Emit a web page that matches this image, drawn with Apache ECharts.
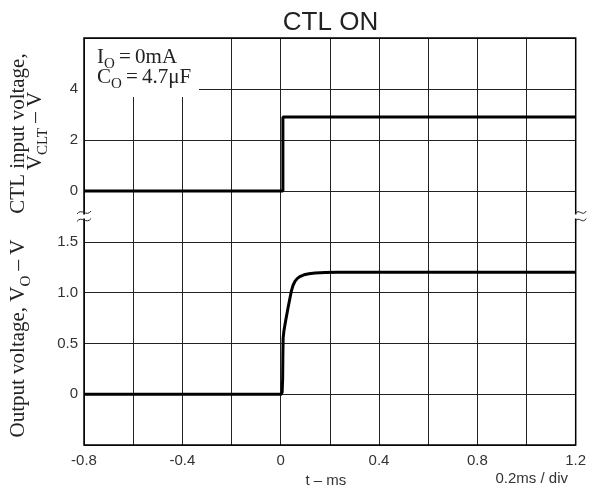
<!DOCTYPE html>
<html>
<head>
<meta charset="utf-8">
<script src="https://cdn.jsdelivr.net/npm/echarts@6/dist/echarts.min.js"></script>
<style>html,body{margin:0;padding:0;background:#fff}#c{width:589px;height:495px}</style>
</head>
<body>
<div id="c"></div>
<script>
// ---- data ----
const xTickLabels = ['-0.8', '-0.4', '0', '0.4', '0.8', '1.2'];
const yTopTickLabels = ['0', '2', '4'];
const yBottomTickLabels = ['0', '0.5', '1.0', '1.5'];

const ctlTime = [-0.8, 0.009, 0.009, 1.2];
const ctlVolt = [0, 0, 2.9, 2.9];

const outTime = [-0.8, 0.002, 0.006, 0.008, 0.009, 0.010, 0.013, 0.020, 0.030, 0.038, 0.044, 0.050, 0.058, 0.068, 0.080, 0.095, 0.115, 0.140, 0.180, 0.230, 1.2];
const outVolt = [0, 0, 0.02, 0.15, 0.40, 0.55, 0.62, 0.72, 0.85, 0.95, 1.02, 1.07, 1.11, 1.14, 1.16, 1.175, 1.186, 1.193, 1.198, 1.2, 1.2];

// ---- layout ----
const L = 84, RIGHT = 13.3, TOP = 38, TOPH = 153, BOTH = 254;
const PLOT_W = 589 - L - RIGHT;
const sans = 'Liberation Sans, Arial, sans-serif';
const serif = 'Liberation Serif, Times New Roman, serif';

function pick(labels) {
  return function (v) {
    for (const s of labels) { if (Math.abs(parseFloat(s) - v) < 1e-6) return s; }
    return '';
  };
}
const pairs = (xs, ys) => xs.map((x, i) => [x, ys[i]]);

const gridLine = { show: true, lineStyle: { color: '#222', width: 1 } };

const chart = echarts.init(document.getElementById('c'), null, { renderer: 'canvas' });
const subStyle = { fontSize: 15, fontFamily: serif, fill: '#222', padding: [14, 0, 0, 0] };
function tilde(cx, cy, w) {
  return { type: 'bezierCurve', z: 70, shape: { x1: cx - w / 2, y1: cy + 1.5, cpx1: cx - w / 6, cpy1: cy - 5, cpx2: cx + w / 6, cpy2: cy + 5, x2: cx + w / 2, y2: cy - 1.5 }, style: { stroke: '#222', lineWidth: 1, fill: null } };
}
const serifText = (x, y, text, rot, align) => ({
  type: 'text', z: 55, x: x, y: y, rotation: rot || 0,
  style: { text: text, fontSize: 21, fontFamily: serif, fill: '#222', align: align || 'center', verticalAlign: 'middle', rich: { s: subStyle } }
});

chart.setOption({
  animation: false,
  grid: [
    { left: L, right: RIGHT, top: TOP, height: TOPH, containLabel: false, outerBoundsMode: 'none' },
    { left: L, right: RIGHT, top: TOP + TOPH, height: BOTH, containLabel: false, outerBoundsMode: 'none' }
  ],
  xAxis: [
    { gridIndex: 0, type: 'value', min: -0.8, max: 1.2, interval: 0.2, axisLine: { show: false }, axisTick: { show: false }, axisLabel: { show: false }, splitLine: gridLine },
    { gridIndex: 1, type: 'value', min: -0.8, max: 1.2, interval: 0.2, axisLine: { show: false }, axisTick: { show: false },
      axisLabel: { formatter: pick(xTickLabels), fontFamily: sans, fontSize: 15, color: '#333', margin: 8 }, splitLine: gridLine,
      name: 't \u2013 ms', nameLocation: 'middle', nameGap: 27, nameTextStyle: { fontFamily: sans, fontSize: 15, color: '#333', padding: [0, 8, 0, 0] } }
  ],
  yAxis: [
    { gridIndex: 0, type: 'value', min: 0, max: 6, interval: 2, axisLine: { show: false }, axisTick: { show: false },
      axisLabel: { formatter: pick(yTopTickLabels), fontFamily: sans, fontSize: 15, color: '#333', margin: 6 }, splitLine: gridLine },
    { gridIndex: 1, type: 'value', min: -0.5, max: 2.0, interval: 0.5, axisLine: { show: false }, axisTick: { show: false },
      axisLabel: { formatter: pick(yBottomTickLabels), fontFamily: sans, fontSize: 15, color: '#333', margin: 6 }, splitLine: gridLine }
  ],
  series: [
    { type: 'line', xAxisIndex: 0, yAxisIndex: 0, data: pairs(ctlTime, ctlVolt), showSymbol: false, clip: false, lineStyle: { color: '#000', width: 3 }, z: 5 },
    { type: 'line', xAxisIndex: 1, yAxisIndex: 1, data: pairs(outTime, outVolt), showSymbol: false, clip: false, lineStyle: { color: '#000', width: 3, join: 'round' }, z: 5 }
  ],
  graphic: [
    { type: 'rect', z: 50, shape: { x: L + 1, y: TOP + 1, width: 114, height: 58 }, style: { fill: '#fff' } },
    serifText(97, 57.5, 'I{s|O}\u2009=\u20090mA', 0, 'left'),
    serifText(97, 77.5, 'C{s|O}\u2009=\u20094.7\u03bcF', 0, 'left'),
    { type: 'rect', z: 60, shape: { x: L, y: TOP, width: PLOT_W, height: TOPH + BOTH }, style: { fill: null, stroke: '#000', lineWidth: 1.5 } },
    // axis breaks
    { type: 'rect', z: 65, shape: { x: L - 2, y: 214.5, width: 4, height: 4 }, style: { fill: '#fff' } },
    tilde(L, 212.5, 14), tilde(L, 220, 14),
    { type: 'rect', z: 65, shape: { x: L + PLOT_W - 2, y: 214.5, width: 4, height: 4 }, style: { fill: '#fff' } },
    tilde(L + PLOT_W + 5, 212.5, 11), tilde(L + PLOT_W + 5, 220, 11),
    // titles
    { type: 'text', z: 55, x: 330.5, y: 23, style: { text: 'CTL ON', fontSize: 26, fontFamily: sans, fill: '#222', align: 'center', verticalAlign: 'middle' } },
    { type: 'text', z: 55, x: 568, y: 479, style: { text: '0.2ms / div', fontSize: 15, fontFamily: sans, fill: '#333', align: 'right', verticalAlign: 'middle' } },
    serifText(18.6, 338.5, 'Output voltage, V{s|O} \u2013 V', Math.PI / 2),
    serifText(18.6, 133.5, 'CTL input voltage,', Math.PI / 2),
    serifText(35.6, 131, 'V{s|CLT} \u2013 V', Math.PI / 2)
  ]
});
</script>
</body>
</html>
